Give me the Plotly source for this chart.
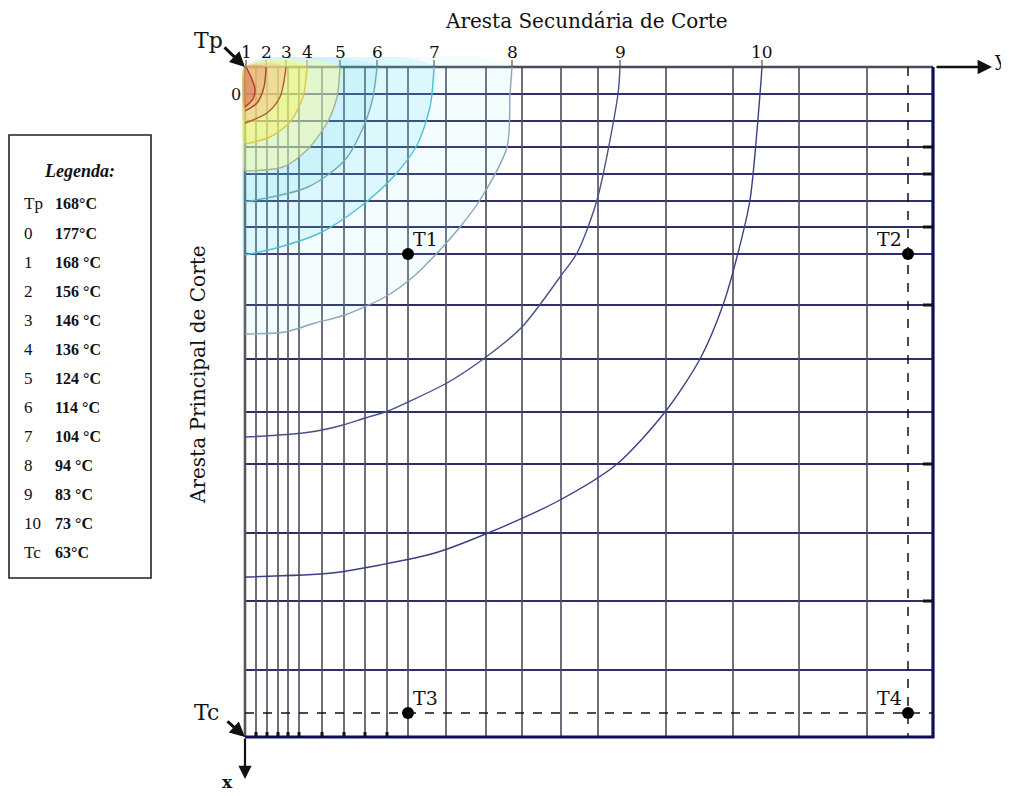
import plotly.graph_objects as go

# ---------------- data (plot units: horizontal = y "Aresta Secundária", vertical = x "Aresta Principal") ----
grid_rows = [0, 27, 54, 80, 107, 134, 160, 187, 238, 292, 345, 397, 466, 534, 603, 670]
grid_cols = [0, 11, 22, 33, 43, 54, 77, 99, 120, 142, 163, 201, 241, 277, 316, 353, 421, 488, 554, 622, 688]
dash_col = 663
dash_row = 646
bottom_tick_cols = [11, 22, 33, 43, 54, 77, 99, 120, 142]
right_tick_rows = [80, 107, 160, 238, 397, 534]

iso_names = ['1', '2', '3', '4', '5', '6', '7', '8', '9', '10']
iso1_h = [1, 6, 10, 8, 0]
iso1_v = [0, 10, 22, 32, 40]
iso2_h = [21, 19, 12, 0]
iso2_v = [0, 20, 36, 44]
iso3_h = [41, 35, 22, 0]
iso3_v = [0, 30, 46, 56]
iso4_h = [62, 58, 45, 25, 0]
iso4_v = [0, 30, 55, 70, 77]
iso5_h = [95, 92, 82, 62, 38, 0]
iso5_v = [0, 30, 56, 83, 100, 104]
iso6_h = [132, 128, 120, 100, 63, 0]
iso6_v = [0, 30, 56, 93, 120, 135]
iso7_h = [189, 185, 172, 150, 115, 75, 35, 0]
iso7_v = [0, 40, 78, 108, 140, 166, 180, 188]
iso8_h = [267, 265, 262, 235, 215, 195, 168, 140, 100, 70, 40, 0]
iso8_v = [0, 27, 80, 133, 160, 183, 210, 230, 248, 256, 265, 267]
iso9_h = [375, 373, 352, 332, 315, 277, 241, 202, 163, 143, 120, 98, 77, 48, 0]
iso9_v = [0, 27, 133, 186, 210, 260, 290, 316, 335, 344, 351, 358, 363, 367, 370]
iso10_h = [517, 515, 505, 493, 478, 455, 420, 372, 315, 243, 190, 135, 87, 0]
iso10_v = [0, 27, 133, 186, 238, 292, 345, 397, 433, 466, 486, 498, 506, 510]

point_names = ['T1', 'T2', 'T3', 'T4']
point_h = [163, 663, 163, 663]
point_v = [187, 187, 646, 646]

legend_keys = ['Tp', '0', '1', '2', '3', '4', '5', '6', '7', '8', '9', '10', 'Tc']
legend_vals = ['168°C', '177°C', '168 °C', '156 °C', '146 °C', '136 °C', '124 °C',
               '114 °C', '104 °C', '94 °C', '83 °C', '73 °C', '63°C']

# ---------------- styling ----------------
FONT = 'Liberation Serif'
WIDE = 'DejaVu Serif'
iso_h = [iso1_h, iso2_h, iso3_h, iso4_h, iso5_h, iso6_h, iso7_h, iso8_h, iso9_h, iso10_h]
iso_v = [iso1_v, iso2_v, iso3_v, iso4_v, iso5_v, iso6_v, iso7_v, iso8_v, iso9_v, iso10_v]
iso_colors = ['#b03a2a', '#a8482e', '#b05a38', '#d8c850', '#a8b098', '#70aab4',
              '#52bfd0', '#8aa6b8', '#4a5088', '#3a4082']
# translucent glow fills inside isotherms (index -> colour)
glow = [(7, 'rgba(150,235,245,0.10)'), (6, 'rgba(60,220,240,0.13)'), (5, 'rgba(60,220,240,0.10)'),
        (4, 'rgba(255,250,150,0.45)'), (3, 'rgba(255,240,60,0.35)'), (2, 'rgba(245,175,140,0.35)'),
        (1, 'rgba(225,110,90,0.25)'), (0, 'rgba(200,60,50,0.30)')]

X0, X1 = -3, 691
Y0, Y1 = 673, -10


def px(xd):
    return (xd - X0) / (X1 - X0)


def py(yd):
    return (Y0 - yd) / (Y0 - Y1)


fig = go.Figure()

for idx, col in glow:
    fig.add_trace(go.Scatter(x=[0] + iso_h[idx] + [0], y=[0] + iso_v[idx] + [0],
                             mode='lines', fill='toself', fillcolor=col,
                             line=dict(width=0, shape='spline', smoothing=0.8),
                             hoverinfo='skip', showlegend=False))

for name, hh, vv, c in zip(iso_names, iso_h, iso_v, iso_colors):
    fig.add_trace(go.Scatter(x=hh, y=vv, mode='lines', name=name,
                             line=dict(color=c, width=1.4, shape='spline', smoothing=0.8),
                             showlegend=False))

fig.add_trace(go.Scatter(x=point_h, y=point_v, mode='markers',
                         marker=dict(color='black', size=12), showlegend=False,
                         cliponaxis=False))

shapes = []
for r in grid_rows[1:-1]:
    shapes.append(dict(type='line', xref='x', yref='y', x0=0, x1=688, y0=r, y1=r,
                       line=dict(color='#2e2e68', width=1.8), layer='below'))
for c in grid_cols[1:-1]:
    shapes.append(dict(type='line', xref='x', yref='y', x0=c, x1=c, y0=0, y1=670,
                       line=dict(color='#4a4a5c', width=1.6), layer='below'))
# small marks where isotherms meet the top edge
for hh in iso_h:
    shapes.append(dict(type='line', xref='x', yref='y', x0=hh[0], x1=hh[0], y0=-7, y1=0,
                       line=dict(color='#555', width=1.2), layer='below'))
# borders
shapes.append(dict(type='line', xref='x', yref='y', x0=0, x1=0, y0=0, y1=670,
                   line=dict(color='#55555f', width=2.6), layer='below'))
shapes.append(dict(type='line', xref='x', yref='y', x0=0, x1=688, y0=0, y1=0,
                   line=dict(color='#4a4a58', width=2.6), layer='below'))
shapes.append(dict(type='line', xref='x', yref='y', x0=688, x1=688, y0=0, y1=671,
                   line=dict(color='#0c0c58', width=3.2)))
shapes.append(dict(type='line', xref='x', yref='y', x0=0, x1=689, y0=670, y1=670,
                   line=dict(color='#0c0c58', width=3.2)))
# dashed lines
shapes.append(dict(type='line', xref='x', yref='y', x0=dash_col, x1=dash_col, y0=0, y1=670,
                   line=dict(color='#111', width=1.5, dash='dash')))
shapes.append(dict(type='line', xref='x', yref='y', x0=0, x1=688, y0=dash_row, y1=dash_row,
                   line=dict(color='#111', width=1.5, dash='dash')))
for c in bottom_tick_cols:
    shapes.append(dict(type='line', xref='x', yref='y', x0=c, x1=c, y0=665, y1=670,
                       line=dict(color='#111', width=3)))
for r in right_tick_rows:
    shapes.append(dict(type='line', xref='x', yref='y', x0=678, x1=688, y0=r, y1=r,
                       line=dict(color='#111', width=3)))
# legend box
shapes.append(dict(type='rect', xref='paper', yref='paper',
                   x0=px(9 - 245), x1=px(151 - 245), y0=py(135 - 67), y1=py(578 - 67),
                   line=dict(color='#222', width=1.6), fillcolor='white'))


def text(xd, yd, s, size=16, xa='center', ya='middle', fam=FONT, **kw):
    d = dict(x=px(xd), y=py(yd), xref='paper', yref='paper', text=s, showarrow=False,
             xanchor=xa, yanchor=ya, font=dict(family=fam, size=size, color='#111'))
    d.update(kw)
    return d


ann = []
for name, hh in zip(iso_names, iso_h):
    ann.append(text(hh[0], -15, name, 17, fam=WIDE))
ann.append(text(-2, 27, '0', 16, xa='right', fam=WIDE))
for name, hh, vv in zip(point_names, point_h, point_v):
    left = hh < 400
    ann.append(text(hh + (3 if left else -4), vv - 2, name, 19,
                    xa='left' if left else 'right', ya='bottom', fam=WIDE))
ann.append(text(341, -46, 'Aresta Secundária de Corte', 20, fam=WIDE))
ann.append(text(-47, 308, 'Aresta Principal de Corte', 20, fam=WIDE, textangle=-90))
ann.append(text(-37, -27, 'Tp', 22, fam=WIDE))
ann.append(text(-39, 645, 'Tc', 22, fam=WIDE))
ann.append(dict(x=0, y=0, xref='x', yref='y', text='', showarrow=True, ax=-22, ay=-21,
                arrowhead=2, arrowsize=1, arrowwidth=3, arrowcolor='#111'))
ann.append(dict(x=0, y=670, xref='x', yref='y', text='', showarrow=True, ax=-19, ay=-17,
                arrowhead=2, arrowsize=1, arrowwidth=3, arrowcolor='#111'))
ann.append(dict(x=0, y=712, xref='x', yref='y', ax=0, ay=670, axref='x', ayref='y', text='',
                showarrow=True, arrowhead=2, arrowsize=1.2, arrowwidth=2.2, arrowcolor='#111'))
ann.append(dict(x=747, y=0, xref='x', yref='y', ax=690, ay=0, axref='x', ayref='y', text='',
                showarrow=True, arrowhead=2, arrowsize=1.2, arrowwidth=2.4, arrowcolor='#111'))
ann.append(text(-18, 715, '<b>x</b>', 17, fam=WIDE))
ann.append(text(755, -8, 'y', 21, fam=WIDE))
# legend
ann.append(text(79 - 245, 171 - 67, '<b><i>Legenda:</i></b>', 18))
for i, (k, v) in enumerate(zip(legend_keys, legend_vals)):
    yy = 204 + i * 29 - 67
    ann.append(text(22 - 245, yy, k, 17, xa='left'))
    ann.append(text(53 - 245, yy, '<b>' + v + '</b>', 16, xa='left'))

# page body has an 8px margin: shift figure so plot coordinates land on the reference pixels
fig.update_layout(
    width=1001, height=788,
    margin=dict(l=234, r=73, t=49, b=56),
    paper_bgcolor='white', plot_bgcolor='white',
    xaxis=dict(range=[X0, X1], visible=False, fixedrange=True),
    yaxis=dict(range=[Y0, Y1], visible=False, fixedrange=True),
    shapes=shapes, annotations=ann, showlegend=False,
)
fig.write_html('out.html')
